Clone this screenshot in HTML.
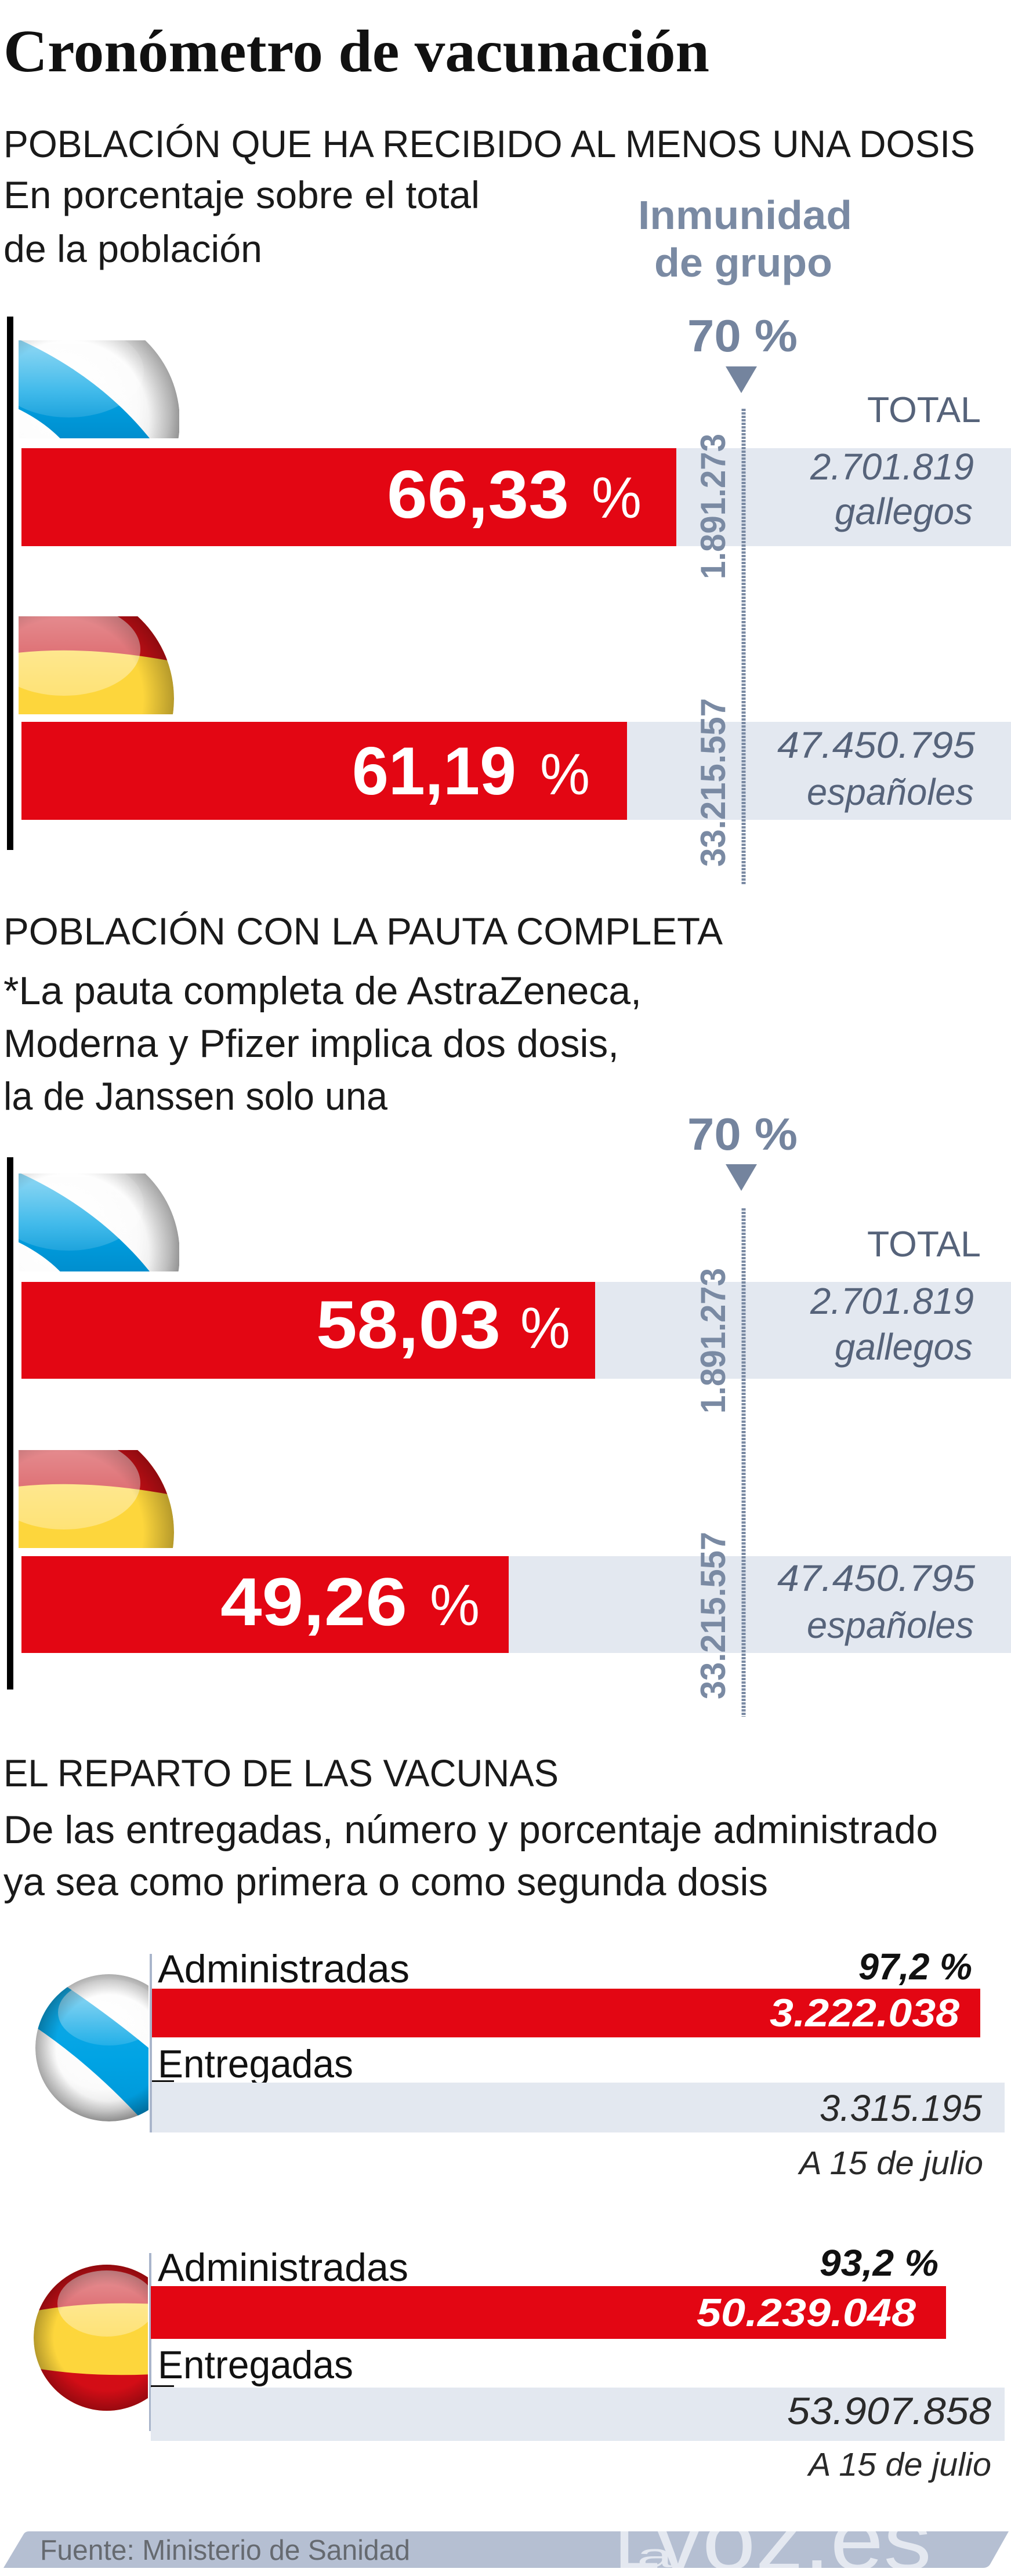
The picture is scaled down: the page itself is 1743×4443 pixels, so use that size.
<!DOCTYPE html>
<html>
<head>
<meta charset="utf-8">
<style>
html,body{margin:0;padding:0;background:#fff;}
svg{display:block;}
text{font-family:"Liberation Sans",sans-serif;}
</style>
</head>
<body>
<svg xmlns="http://www.w3.org/2000/svg" xmlns:xlink="http://www.w3.org/1999/xlink" width="1743" height="4443" viewBox="0 0 1743 4443">
<defs>
  <radialGradient id="sphW" cx="0.45" cy="0.42" r="0.6">
    <stop offset="0" stop-color="#ffffff"/>
    <stop offset="0.6" stop-color="#fbfbfb"/>
    <stop offset="0.85" stop-color="#e4e4e4"/>
    <stop offset="1" stop-color="#bdbdbd"/>
  </radialGradient>
  <radialGradient id="shade" cx="0.5" cy="0.5" r="0.5">
    <stop offset="0" stop-color="#000" stop-opacity="0"/>
    <stop offset="0.72" stop-color="#000" stop-opacity="0"/>
    <stop offset="1" stop-color="#000" stop-opacity="0.28"/>
  </radialGradient>
  <linearGradient id="blue" x1="0" y1="0" x2="0" y2="1">
    <stop offset="0" stop-color="#1aaee8"/>
    <stop offset="0.5" stop-color="#00a3e4"/>
    <stop offset="1" stop-color="#008ccc"/>
  </linearGradient>
  <linearGradient id="hl" x1="0" y1="0" x2="0" y2="1">
    <stop offset="0" stop-color="#fff" stop-opacity="0.6"/>
    <stop offset="1" stop-color="#fff" stop-opacity="0.12"/>
  </linearGradient>
  <linearGradient id="hlS" x1="0" y1="0" x2="0" y2="1">
    <stop offset="0" stop-color="#fff" stop-opacity="0.55"/>
    <stop offset="1" stop-color="#fff" stop-opacity="0.3"/>
  </linearGradient>

  <clipPath id="cg1"><rect x="32" y="587" width="277" height="169"/></clipPath>
  <clipPath id="cgc"><circle cx="118" cy="726" r="192"/></clipPath>
  <clipPath id="cs1"><rect x="32" y="1063" width="270" height="169"/></clipPath>
  <clipPath id="csc"><circle cx="108" cy="1205" r="192"/></clipPath>
  <clipPath id="cg3"><rect x="40" y="3380" width="216" height="300"/></clipPath>
  <clipPath id="cg3c"><circle cx="188" cy="3532" r="127"/></clipPath>
  <clipPath id="cs3"><rect x="40" y="3890" width="215" height="290"/></clipPath>
  <clipPath id="cs3c"><circle cx="184" cy="4032" r="126"/></clipPath>
  <clipPath id="foot"><path d="M50,4366 L1739,4366 L1708,4421 Q1704,4429 1695,4429 L6,4429 L40,4372 Q43,4366 50,4366 Z"/></clipPath>

  <g id="galIcon" clip-path="url(#cg1)">
    <g clip-path="url(#cgc)">
      <circle cx="118" cy="726" r="192" fill="url(#sphW)"/>
      <path d="M20,580 C110,618 200,680 265,765 L112,765 C90,740 60,718 20,700 Z" fill="url(#blue)"/>
      <ellipse cx="118" cy="640" rx="130" ry="80" fill="url(#hl)"/>
      <circle cx="118" cy="726" r="192" fill="url(#shade)"/>
    </g>
  </g>
  <g id="espIcon" clip-path="url(#cs1)">
    <g clip-path="url(#csc)">
      <circle cx="108" cy="1205" r="192" fill="#fdd63c"/>
      <path d="M0,1000 H320 V1145 Q140,1108 0,1130 Z" fill="#c80f16"/>
      <ellipse cx="110" cy="1120" rx="132" ry="80" fill="url(#hlS)"/>
      <circle cx="108" cy="1205" r="192" fill="url(#shade)"/>
    </g>
  </g>
</defs>

<!-- Title -->
<text x="6" y="123" font-weight="bold" font-size="104" fill="#111" textLength="1217" lengthAdjust="spacingAndGlyphs" style="font-family:'Liberation Serif',serif">Cronómetro de vacunación</text>

<!-- Section 1 -->
<text x="6" y="271" font-size="66" fill="#1a1a1a" textLength="1675" lengthAdjust="spacingAndGlyphs">POBLACIÓN QUE HA RECIBIDO AL MENOS UNA DOSIS</text>
<text x="6" y="359" font-size="66" fill="#1a1a1a" textLength="821" lengthAdjust="spacingAndGlyphs">En porcentaje sobre el total</text>
<text x="6" y="452" font-size="66" fill="#1a1a1a" textLength="446" lengthAdjust="spacingAndGlyphs">de la población</text>
<text x="1100" y="395" font-size="70" font-weight="bold" fill="#7a8aa3" textLength="369" lengthAdjust="spacingAndGlyphs">Inmunidad</text>
<text x="1128" y="477" font-size="70" font-weight="bold" fill="#7a8aa3" textLength="307" lengthAdjust="spacingAndGlyphs">de grupo</text>

<text x="1185" y="606" font-size="78" font-weight="bold" fill="#74849e" textLength="190" lengthAdjust="spacingAndGlyphs">70 %</text>
<polygon points="1251,632 1305,632 1278,678" fill="#74849e"/>
<text x="1495" y="728" font-size="62" fill="#56637a" textLength="196" lengthAdjust="spacingAndGlyphs">TOTAL</text>

<rect x="12" y="546" width="11" height="920" fill="#000"/>

<use xlink:href="#galIcon" href="#galIcon"/>
<rect x="37" y="773" width="1129" height="169" fill="#e30613"/>
<rect x="1166" y="773" width="577" height="169" fill="#e3e8f0"/>
<text x="667" y="893" font-size="117" font-weight="bold" fill="#fff" textLength="314" lengthAdjust="spacingAndGlyphs">66,33</text>
<text x="1020" y="893" font-size="100" fill="#fff" textLength="86" lengthAdjust="spacingAndGlyphs">%</text>
<text x="1397" y="827" font-size="64" font-style="italic" fill="#56637a" textLength="282" lengthAdjust="spacingAndGlyphs">2.701.819</text>
<text x="1439" y="904" font-size="64" font-style="italic" fill="#56637a" textLength="238" lengthAdjust="spacingAndGlyphs">gallegos</text>

<use xlink:href="#espIcon" href="#espIcon"/>
<rect x="37" y="1245" width="1044" height="169" fill="#e30613"/>
<rect x="1081" y="1245" width="662" height="169" fill="#e3e8f0"/>
<text x="607" y="1370" font-size="117" font-weight="bold" fill="#fff" textLength="283" lengthAdjust="spacingAndGlyphs">61,19</text>
<text x="931" y="1370" font-size="100" fill="#fff" textLength="86" lengthAdjust="spacingAndGlyphs">%</text>
<text x="1340" y="1307" font-size="64" font-style="italic" fill="#56637a" textLength="341" lengthAdjust="spacingAndGlyphs">47.450.795</text>
<text x="1391" y="1388" font-size="64" font-style="italic" fill="#56637a" textLength="288" lengthAdjust="spacingAndGlyphs">españoles</text>

<line x1="1282" y1="705" x2="1282" y2="1525" stroke="#7a8aa3" stroke-width="7" stroke-dasharray="4 2"/>
<text transform="translate(1250,999) rotate(-90)" font-size="60" font-weight="bold" fill="#7a8aa3" textLength="251" lengthAdjust="spacingAndGlyphs">1.891.273</text>
<text transform="translate(1250,1495) rotate(-90)" font-size="60" font-weight="bold" fill="#7a8aa3" textLength="291" lengthAdjust="spacingAndGlyphs">33.215.557</text>

<!-- Section 2 -->
<text x="6" y="1629" font-size="66" fill="#1a1a1a" textLength="1240" lengthAdjust="spacingAndGlyphs">POBLACIÓN CON LA PAUTA COMPLETA</text>
<text x="6" y="1732" font-size="68" fill="#1a1a1a" textLength="1100" lengthAdjust="spacingAndGlyphs">*La pauta completa de AstraZeneca,</text>
<text x="6" y="1823" font-size="68" fill="#1a1a1a" textLength="1061" lengthAdjust="spacingAndGlyphs">Moderna y Pfizer implica dos dosis,</text>
<text x="6" y="1914" font-size="68" fill="#1a1a1a" textLength="662" lengthAdjust="spacingAndGlyphs">la de Janssen solo una</text>

<text x="1185" y="1983" font-size="78" font-weight="bold" fill="#74849e" textLength="190" lengthAdjust="spacingAndGlyphs">70 %</text>
<polygon points="1251,2008 1305,2008 1278,2054" fill="#74849e"/>
<text x="1495" y="2167" font-size="62" fill="#56637a" textLength="196" lengthAdjust="spacingAndGlyphs">TOTAL</text>

<rect x="12" y="1996" width="11" height="918" fill="#000"/>

<use xlink:href="#galIcon" href="#galIcon" transform="translate(0,1437)"/>
<rect x="37" y="2211" width="989" height="167" fill="#e30613"/>
<rect x="1026" y="2211" width="717" height="167" fill="#e3e8f0"/>
<text x="545" y="2325" font-size="117" font-weight="bold" fill="#fff" textLength="318" lengthAdjust="spacingAndGlyphs">58,03</text>
<text x="897" y="2325" font-size="100" fill="#fff" textLength="86" lengthAdjust="spacingAndGlyphs">%</text>
<text x="1397" y="2266" font-size="64" font-style="italic" fill="#56637a" textLength="282" lengthAdjust="spacingAndGlyphs">2.701.819</text>
<text x="1439" y="2345" font-size="64" font-style="italic" fill="#56637a" textLength="238" lengthAdjust="spacingAndGlyphs">gallegos</text>

<use xlink:href="#espIcon" href="#espIcon" transform="translate(0,1438)"/>
<rect x="37" y="2684" width="840" height="167" fill="#e30613"/>
<rect x="877" y="2684" width="866" height="167" fill="#e3e8f0"/>
<text x="380" y="2803" font-size="117" font-weight="bold" fill="#fff" textLength="322" lengthAdjust="spacingAndGlyphs">49,26</text>
<text x="741" y="2803" font-size="100" fill="#fff" textLength="86" lengthAdjust="spacingAndGlyphs">%</text>
<text x="1340" y="2744" font-size="64" font-style="italic" fill="#56637a" textLength="341" lengthAdjust="spacingAndGlyphs">47.450.795</text>
<text x="1391" y="2825" font-size="64" font-style="italic" fill="#56637a" textLength="288" lengthAdjust="spacingAndGlyphs">españoles</text>

<line x1="1282" y1="2084" x2="1282" y2="2961" stroke="#7a8aa3" stroke-width="7" stroke-dasharray="4 2"/>
<text transform="translate(1250,2438) rotate(-90)" font-size="60" font-weight="bold" fill="#7a8aa3" textLength="251" lengthAdjust="spacingAndGlyphs">1.891.273</text>
<text transform="translate(1250,2931) rotate(-90)" font-size="60" font-weight="bold" fill="#7a8aa3" textLength="289" lengthAdjust="spacingAndGlyphs">33.215.557</text>

<!-- Section 3 -->
<text x="6" y="3081" font-size="66" fill="#1a1a1a" textLength="957" lengthAdjust="spacingAndGlyphs">EL REPARTO DE LAS VACUNAS</text>
<text x="6" y="3179" font-size="68" fill="#1a1a1a" textLength="1611" lengthAdjust="spacingAndGlyphs">De las entregadas, número y porcentaje administrado</text>
<text x="6" y="3269" font-size="68" fill="#1a1a1a" textLength="1318" lengthAdjust="spacingAndGlyphs">ya sea como primera o como segunda dosis</text>

<!-- Block 1: Galicia -->
<g clip-path="url(#cg3)">
  <g clip-path="url(#cg3c)">
    <circle cx="188" cy="3532" r="127" fill="url(#sphW)"/>
    <path d="M60,3390 Q200,3480 300,3570 L300,3720 Q170,3560 20,3470 Z" fill="url(#blue)"/>
    <ellipse cx="188" cy="3471" rx="88" ry="57" fill="url(#hl)"/>
    <circle cx="188" cy="3532" r="127" fill="url(#shade)"/>
  </g>
</g>
<rect x="258" y="3370" width="4" height="308" fill="#a9b5cb"/>
<text x="272" y="3419" font-size="68" fill="#111" textLength="434" lengthAdjust="spacingAndGlyphs">Administradas</text>
<text x="1480" y="3414" font-size="64" font-weight="bold" font-style="italic" fill="#111" textLength="196" lengthAdjust="spacingAndGlyphs">97,2 %</text>
<rect x="262" y="3430" width="1428" height="84" fill="#e30613"/>
<text x="1327" y="3495" font-size="68" font-weight="bold" font-style="italic" fill="#fff" textLength="327" lengthAdjust="spacingAndGlyphs">3.222.038</text>
<text x="272" y="3583" font-size="68" fill="#111" textLength="337" lengthAdjust="spacingAndGlyphs">Entregadas</text>
<rect x="262" y="3588" width="38" height="3" fill="#111"/>
<rect x="262" y="3592" width="1470" height="86" fill="#e3e8f0"/>
<text x="1413" y="3658" font-size="64" font-style="italic" fill="#2a2a2a" textLength="280" lengthAdjust="spacingAndGlyphs">3.315.195</text>
<text x="1378" y="3750" font-size="57" font-style="italic" fill="#2a2a2a" textLength="317" lengthAdjust="spacingAndGlyphs">A 15 de julio</text>

<!-- Block 2: España -->
<g clip-path="url(#cs3)">
  <g clip-path="url(#cs3c)">
    <circle cx="184" cy="4032" r="126" fill="#fdd63c"/>
    <path d="M40,3880 H330 V3979 Q170,3962 40,3990 Z" fill="#c80f16"/>
    <path d="M40,4081 Q170,4106 330,4090 V4200 H40 Z" fill="#d30d16"/>
    <ellipse cx="184" cy="3973" rx="85" ry="57" fill="url(#hlS)"/>
    <circle cx="184" cy="4032" r="126" fill="url(#shade)"/>
  </g>
</g>
<rect x="257" y="3886" width="4" height="307" fill="#a9b5cb"/>
<text x="272" y="3934" font-size="68" fill="#111" textLength="432" lengthAdjust="spacingAndGlyphs">Administradas</text>
<text x="1413" y="3925" font-size="64" font-weight="bold" font-style="italic" fill="#111" textLength="205" lengthAdjust="spacingAndGlyphs">93,2 %</text>
<rect x="260" y="3943" width="1371" height="91" fill="#e30613"/>
<text x="1201" y="4012" font-size="68" font-weight="bold" font-style="italic" fill="#fff" textLength="378" lengthAdjust="spacingAndGlyphs">50.239.048</text>
<text x="272" y="4102" font-size="68" fill="#111" textLength="337" lengthAdjust="spacingAndGlyphs">Entregadas</text>
<rect x="260" y="4114" width="40" height="3" fill="#111"/>
<rect x="260" y="4118" width="1472" height="92" fill="#e3e8f0"/>
<text x="1357" y="4181" font-size="66" font-style="italic" fill="#2a2a2a" textLength="352" lengthAdjust="spacingAndGlyphs">53.907.858</text>
<text x="1394" y="4270" font-size="57" font-style="italic" fill="#2a2a2a" textLength="315" lengthAdjust="spacingAndGlyphs">A 15 de julio</text>

<!-- Footer -->
<path d="M50,4366 L1739,4366 L1708,4421 Q1704,4429 1695,4429 L6,4429 L40,4372 Q43,4366 50,4366 Z" fill="#b5bfd2"/>
<text x="69" y="4415" font-size="49" fill="#666a70" textLength="638" lengthAdjust="spacingAndGlyphs">Fuente: Ministerio de Sanidad</text>
<g clip-path="url(#foot)">
  <text x="1058" y="4432" font-size="150" fill="#e4e8f0" textLength="80" lengthAdjust="spacingAndGlyphs">L</text>
  <text x="1098" y="4428" font-size="58" fill="#e4e8f0" textLength="62" lengthAdjust="spacingAndGlyphs">a</text>
  <text x="1128" y="4432" font-size="150" fill="#e4e8f0" textLength="478" lengthAdjust="spacingAndGlyphs">voz.es</text>
</g>
</svg>
</body>
</html>
